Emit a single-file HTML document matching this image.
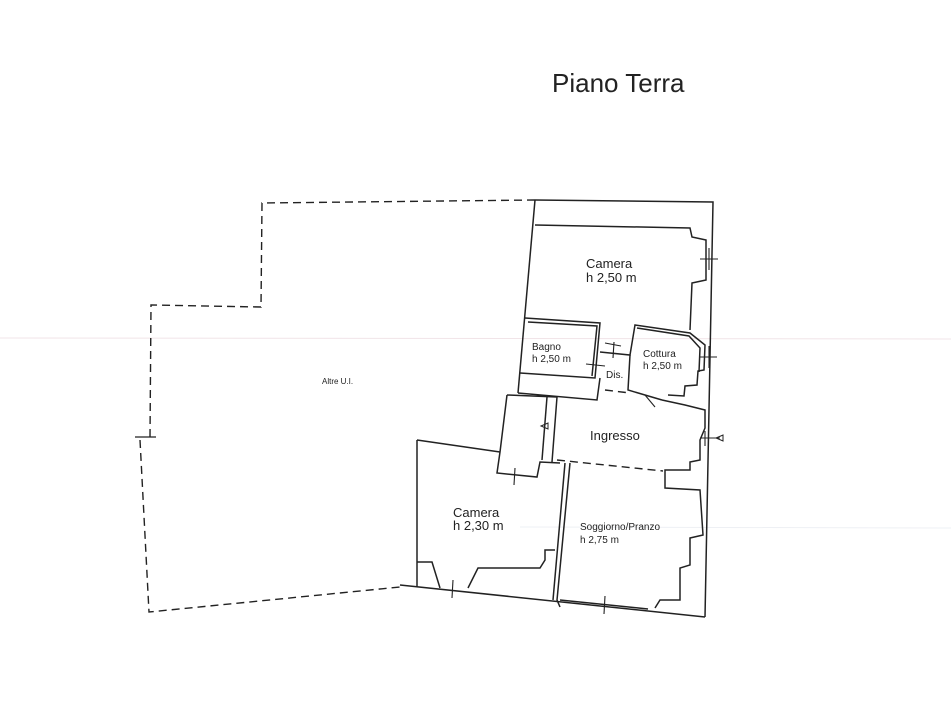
<!DOCTYPE html>
<html><head><meta charset="utf-8"><style>
html,body{margin:0;padding:0;background:#fff;}
svg{display:block}
text{font-family:"Liberation Sans",sans-serif;fill:#222}
</style></head><body>
<svg width="951" height="713" viewBox="0 0 951 713" xmlns="http://www.w3.org/2000/svg">
<rect width="951" height="713" fill="#fff"/>
<line x1="0" y1="338" x2="951" y2="339" stroke="#f1e4e8" stroke-width="1"/>
<line x1="520" y1="527" x2="951" y2="528" stroke="#eef0f4" stroke-width="1"/>
<text x="552" y="92" font-size="26">Piano Terra</text>
<g fill="none" stroke="#222" stroke-width="1.4" stroke-dasharray="8,5">
<polyline points="535,200 262,203 261,307 151,305 150,437"/>
<polyline points="140,440 149,612 400,587"/>
<line x1="557" y1="460" x2="663" y2="471"/>
<line x1="605" y1="390" x2="630" y2="393"/>
</g>
<line x1="135" y1="437" x2="156" y2="437" stroke="#222" stroke-width="1.2"/>
<g fill="none" stroke="#222" stroke-width="1.5">
<polyline points="535,200 713,202 705,617"/>
<polyline points="400,585 705,617"/>
<line x1="535" y1="200" x2="518" y2="393"/>
<polyline points="535,225 690,228 692,237 706,240 706,280 692,283 690,330"/>
<polyline points="525,318 600,323 595,378 520,373"/>
<polyline points="528,322 597,326 592,376"/>
<polyline points="600,352 630,355 635,325 690,333 705,345 704,370 698,371 697,385 685,386 684,396 668,395"/>
<polyline points="637,328 689,336 700,348 699,372"/>
<polyline points="630,355 628,390 662,400"/>
<polyline points="518,393 597,400 600,378"/>
<polyline points="507,395 557,397 552,462"/>
<polyline points="507,395 500,452 497,473 537,477 540,462 560,463"/>
<polyline points="547,397 542,460"/>
<polyline points="662,400 685,405 705,410 705,428 700,440 700,460 690,462 690,470 665,470 665,488 700,490 703,535 690,538 690,565 680,568 680,600 660,600 655,608"/>
<polyline points="417,440 500,452"/>
<polyline points="417,440 417,587"/>
<polyline points="570,463 557,600 560,607"/>
<polyline points="565,463 553,600"/>
<polyline points="417,562 432,562 440,588"/>
<polyline points="468,588 478,568 540,568 545,560 545,550 555,550"/>
<polyline points="560,600 648,609"/>
</g>
<g stroke="#222" stroke-width="1.1">
<line x1="700" y1="259" x2="718" y2="259"/><line x1="709" y1="248" x2="709" y2="270"/>
<line x1="700" y1="357" x2="717" y2="357"/><line x1="709" y1="346" x2="709" y2="368"/>
<line x1="605" y1="343" x2="621" y2="346"/><line x1="614" y1="342" x2="613" y2="358"/>
<line x1="586" y1="364" x2="605" y2="366"/>
<line x1="645" y1="395" x2="655" y2="407"/>
<line x1="700" y1="438" x2="720" y2="438"/><line x1="705" y1="431" x2="705" y2="446"/>
<line x1="515" y1="468" x2="514" y2="485"/>
<line x1="453" y1="580" x2="452" y2="598"/>
<line x1="605" y1="596" x2="604" y2="614"/>
</g>
<polygon points="716,438 723,435 723,441" fill="none" stroke="#222" stroke-width="1"/>
<polygon points="541,426 548,423 548,429" fill="none" stroke="#222" stroke-width="1"/>
<text x="586" y="268" font-size="13">Camera</text>
<text x="586" y="282" font-size="13">h 2,50 m</text>
<text x="532" y="350" font-size="10">Bagno</text>
<text x="532" y="362" font-size="10">h 2,50 m</text>
<text x="643" y="357" font-size="10">Cottura</text>
<text x="643" y="369" font-size="10">h 2,50 m</text>
<text x="606" y="378" font-size="10">Dis.</text>
<text x="590" y="440" font-size="13">Ingresso</text>
<text x="453" y="517" font-size="13">Camera</text>
<text x="453" y="530" font-size="13">h 2,30 m</text>
<text x="580" y="530" font-size="10">Soggiorno/Pranzo</text>
<text x="580" y="543" font-size="10">h 2,75 m</text>
<text x="322" y="384" font-size="8">Altre U.I.</text>
</svg>
</body></html>
